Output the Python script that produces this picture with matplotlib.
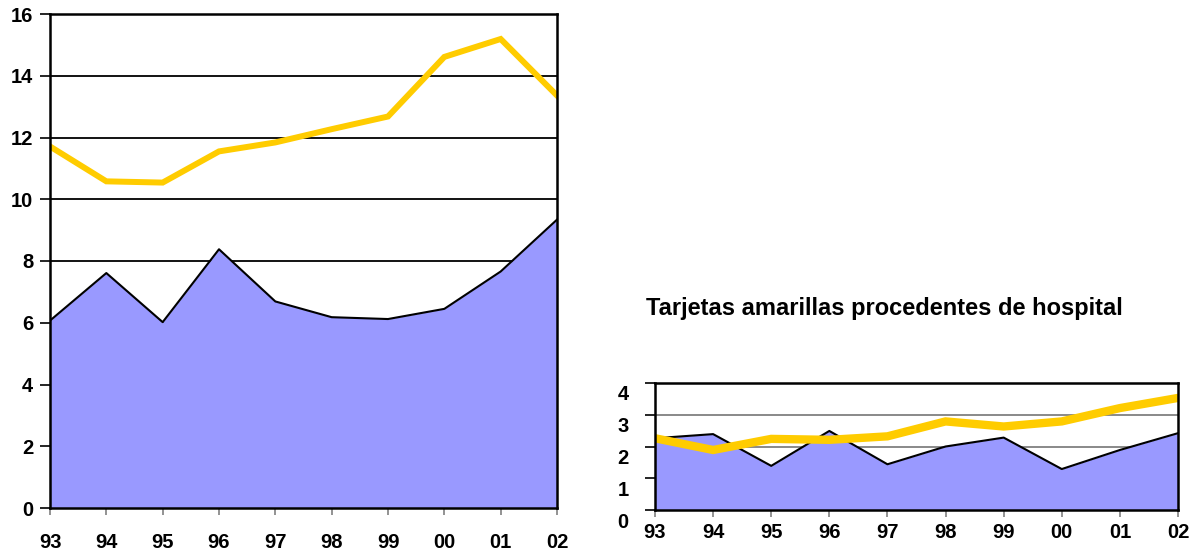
import matplotlib
matplotlib.use("Agg")
import matplotlib.pyplot as plt
import matplotlib.transforms as mtransforms

plt.rcParams['font.family'] = ['Liberation Sans', 'DejaVu Sans']
plt.rcParams['font.weight'] = 'bold'

years = ['93', '94', '95', '96', '97', '98', '99', '00', '01', '02']

# left chart
left_area = [6.07, 7.61, 6.02, 8.38, 6.69, 6.18, 6.12, 6.45, 7.66, 9.34]
left_line = [11.71, 10.58, 10.54, 11.55, 11.84, 12.27, 12.68, 14.61, 15.19, 13.36]
left_yticks = [0, 2, 4, 6, 8, 10, 12, 14, 16]

# right chart
right_title = 'Tarjetas amarillas procedentes de hospital'
right_area = [2.26, 2.39, 1.39, 2.49, 1.44, 2.00, 2.28, 1.29, 1.89, 2.42]
right_line = [2.26, 1.89, 2.24, 2.21, 2.32, 2.79, 2.63, 2.79, 3.21, 3.53]
right_yticks = [0, 1, 2, 3, 4]

blue = '#9999FF'
yellow = '#FFCC00'

W, H = 1200, 553
fig = plt.figure(figsize=(12, 5.53), dpi=100)

ax1 = fig.add_axes([50 / W, (H - 508) / H, 507 / W, 494 / H])
ax2 = fig.add_axes([655 / W, (H - 510) / H, 523 / W, 127 / H])

x = list(range(len(years)))


def draw(ax, area, line, yticks, grid_color, line_w, xpad, ypad):
    ax.set_xlim(0, len(years) - 1)
    ax.set_ylim(yticks[0], yticks[-1])
    for t in yticks[1:-1]:
        ax.axhline(t, color=grid_color, lw=1.3, zorder=1)
    ax.fill_between(x, area, 0, color=blue, lw=0, zorder=2)
    ax.plot(x, area, color='black', lw=1.5, zorder=3)
    ax.plot(x, line, color=yellow, lw=line_w, zorder=4, solid_joinstyle='miter')
    ax.set_xticks(x)
    ax.set_xticklabels(years, fontsize=14.5, fontweight='bold')
    ax.set_yticks(yticks)
    ax.set_yticklabels([str(t) for t in yticks], fontsize=14.5, fontweight='bold')
    ax.tick_params(axis='x', length=5, color='#808080', width=1.2, pad=xpad)
    ax.tick_params(axis='y', length=7, color='black', width=1.2, pad=ypad)
    for s in ax.spines.values():
        s.set_linewidth(1.8)
        s.set_zorder(5)


draw(ax1, left_area, left_line, left_yticks, 'black', 4.3, 13, 5)
draw(ax2, right_area, right_line, right_yticks, '#808080', 6, 4, 12)

# right chart y labels sit a bit lower than their ticks
offset = mtransforms.ScaledTranslation(0, -10 / 100, fig.dpi_scale_trans)
for lab in ax2.get_yticklabels():
    lab.set_transform(lab.get_transform() + offset)

fig.text(884 / W, 1 - 315 / H, right_title, ha='center', va='baseline',
         fontsize=17, fontweight='bold')

fig.savefig('out.png', dpi=100)
